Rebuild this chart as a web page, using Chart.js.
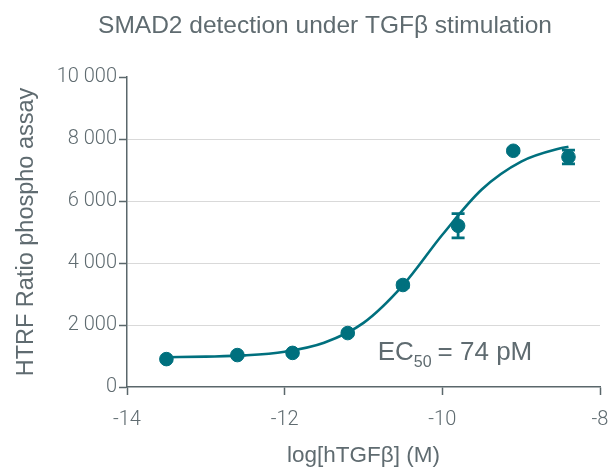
<!DOCTYPE html>
<html>
<head>
<meta charset="utf-8">
<script src="https://cdn.jsdelivr.net/npm/chart.js@4.4.1/dist/chart.umd.min.js"></script>
<style>
  html, body { margin: 0; padding: 0; background: #fff; }
  #wrap { width: 612px; height: 467px; }
</style>
</head>
<body>
<div id="wrap"><canvas id="smadChart" width="612" height="467"></canvas></div>
<script>
// measured points: log concentration (M) vs HTRF ratio
const logConc = [-13.5, -12.6, -11.9, -11.2, -10.5, -9.8, -9.1, -8.4];
const htrfRatio = [900, 1030, 1100, 1740, 3290, 5200, 7620, 7420];
const htrfSd = [40, 40, 40, 60, 80, 390, 60, 220];

// fitted dose-response curve
const fitLogConc = [-13.5, -13, -12.5, -12, -11.5, -11, -10.5, -10, -9.5, -9, -8.5, -8.4];
const fitRatio = [960, 980, 1020, 1140, 1430, 2070, 3280, 4910, 6370, 7270, 7700, 7750];

const xTicks = [-14, -12, -10, -8];
const yTicks = [0, 2000, 4000, 6000, 8000, 10000];

const teal = "#00707e";
const textGrey = "#5f6b70";
const axisGrey = "#5a676b";
const sans = "'Liberation Sans', Arial, sans-serif";

const fmt = (v) => String(v).replace(/\B(?=(\d{3})+(?!\d))/g, " ");

const titleText = {
    id: "titleText",
    afterDraw(chart) {
        const { ctx } = chart;
        ctx.save();
        ctx.fillStyle = textGrey;
        ctx.font = "24.5px " + sans;
        ctx.textAlign = "center";
        ctx.textBaseline = "middle";
        ctx.fillText("SMAD2 detection under TGFβ stimulation", 325, 26);
        ctx.restore();
    },
};

const errorBars = {
    id: "errorBars",
    afterDatasetsDraw(chart) {
        const { ctx, scales } = chart;
        ctx.save();
        ctx.strokeStyle = teal;
        ctx.lineWidth = 2.8;
        logConc.forEach((x, i) => {
            const px = scales.x.getPixelForValue(x);
            const top = scales.y.getPixelForValue(htrfRatio[i] + htrfSd[i]);
            const bot = scales.y.getPixelForValue(htrfRatio[i] - htrfSd[i]);
            ctx.beginPath();
            ctx.moveTo(px, top); ctx.lineTo(px, bot);
            ctx.moveTo(px - 6.5, top); ctx.lineTo(px + 6.5, top);
            ctx.moveTo(px - 6.5, bot); ctx.lineTo(px + 6.5, bot);
            ctx.stroke();
        });
        ctx.restore();
    },
};

const ec50Label = {
    id: "ec50Label",
    afterDraw(chart) {
        const { ctx, scales } = chart;
        const x = scales.x.getPixelForValue(-10.82);
        const y = scales.y.getPixelForValue(870);
        ctx.save();
        ctx.fillStyle = textGrey;
        ctx.textBaseline = "alphabetic";
        ctx.font = "26px " + sans;
        ctx.fillText("EC", x, y);
        let w = ctx.measureText("EC").width;
        ctx.font = "16px " + sans;
        ctx.fillText("50", x + w, y + 7);
        w += ctx.measureText("50").width + 6;
        ctx.font = "26px " + sans;
        ctx.fillText("= 74 pM", x + w, y);
        ctx.restore();
    },
};

new Chart(document.getElementById("smadChart"), {
    type: "scatter",
    data: {
        datasets: [
            {
                label: "fit",
                data: fitLogConc.map((x, i) => ({ x, y: fitRatio[i] })),
                showLine: true,
                borderColor: teal,
                borderWidth: 2.6,
                pointRadius: 0,
                cubicInterpolationMode: "monotone",
            },
            {
                label: "SMAD2",
                data: logConc.map((x, i) => ({ x, y: htrfRatio[i] })),
                backgroundColor: teal,
                borderColor: teal,
                pointRadius: 6.8,
            },
        ],
    },
    options: {
        responsive: false,
        animation: false,
        layout: { padding: { left: 0, right: 12, top: 77, bottom: 0 } },
        plugins: {
            legend: { display: false },
            tooltip: { enabled: false },
            title: { display: false },
        },
        scales: {
            x: {
                type: "linear",
                min: -14,
                max: -8,
                afterBuildTicks: (s) => { s.ticks = xTicks.map((v) => ({ value: v })); },
                afterFit: (s) => {
                    s.height = 80;
                    s.paddingLeft = 0;
                    s.paddingRight = 0;
                },
                border: { color: axisGrey, width: 1.5 },
                grid: { drawOnChartArea: false, tickLength: 8, tickColor: axisGrey, tickWidth: 1.5 },
                ticks: { color: textGrey, padding: 13, font: { family: "Roboto, sans-serif", size: 20, weight: 300 } },
                title: {
                    display: true,
                    text: "log[hTGFβ] (M)",
                    color: textGrey,
                    font: { family: sans, size: 22.5 },
                    padding: { top: 6, bottom: -2 },
                },
            },
            y: {
                min: 0,
                max: 10000,
                afterBuildTicks: (s) => { s.ticks = yTicks.map((v) => ({ value: v })); },
                afterFit: (s) => { s.width = 127; },
                border: { color: axisGrey, width: 1.5 },
                grid: {
                    color: (c) => (c.tick && c.tick.value > 0 && c.tick.value < 10000 ? "#d9d9d9" : "rgba(0,0,0,0)"),
                    tickLength: 8,
                    tickColor: axisGrey,
                    tickWidth: 1.5,
                },
                ticks: {
                    color: textGrey,
                    padding: 2,
                    font: { family: "Roboto, sans-serif", size: 20, weight: 300 },
                    callback: (v) => fmt(v),
                },
                title: {
                    display: true,
                    text: "HTRF Ratio phospho assay",
                    color: textGrey,
                    font: { family: sans, size: 23.5 },
                    padding: { top: 12, bottom: 0 },
                },
            },
        },
    },
    plugins: [titleText, errorBars, ec50Label],
});
</script>
</body>
</html>
